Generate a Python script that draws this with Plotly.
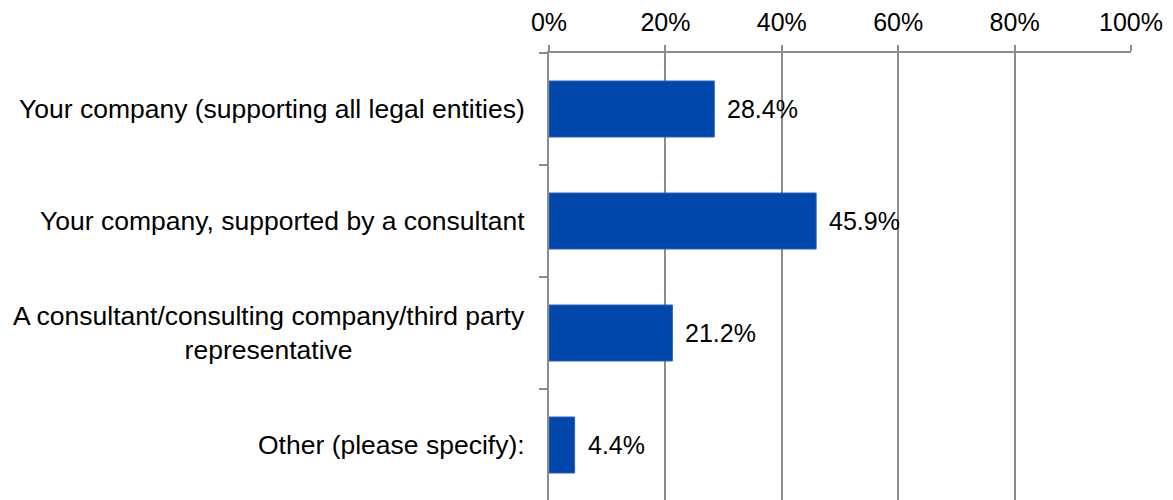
import plotly.graph_objects as go

categories = [
    "Your company (supporting all legal entities)",
    "Your company, supported by a consultant",
    "A consultant/consulting company/third party<br>representative",
    "Other (please specify):",
]
values = [0.284, 0.459, 0.212, 0.044]
value_labels = ["28.4%", "45.9%", "21.2%", "4.4%"]
x_ticks = [0, 0.2, 0.4, 0.6, 0.8, 1.0]
x_tick_labels = ["0%", "20%", "40%", "60%", "80%", "100%"]

FONT = "Liberation Sans, Arial, sans-serif"
GRID = "#8c8c8c"

fig = go.Figure(
    go.Bar(
        x=values,
        y=categories,
        orientation="h",
        width=0.5,
        marker=dict(color="#0047AB", line=dict(color="#2a5fbf", width=1)),
        hoverinfo="skip",
    )
)

annotations = []
for cat, v, lab in zip(categories, values, value_labels):
    annotations.append(dict(
        x=0, y=cat, xref="x", yref="y", text=cat, showarrow=False,
        xanchor="right", yanchor="middle", align="center", xshift=-22,
        font=dict(family=FONT, size=26.5, color="black"),
    ))
    annotations.append(dict(
        x=v, y=cat, xref="x", yref="y", text=lab, showarrow=False,
        xanchor="left", yanchor="middle", xshift=11,
        font=dict(family=FONT, size=25, color="black"),
    ))

# page body has an 8px default margin, so the figure is shrunk by that offset
fig.update_layout(
    width=1165, height=492,
    margin=dict(l=541, r=42, t=45, b=0),
    paper_bgcolor="white", plot_bgcolor="white",
    showlegend=False,
    annotations=annotations,
    xaxis=dict(
        side="top", range=[0, 1], tickvals=x_ticks, ticktext=x_tick_labels,
        showgrid=True, gridcolor=GRID, gridwidth=1.5,
        showline=True, linecolor=GRID, linewidth=1.5,
        ticks="outside", ticklen=6, tickcolor=GRID, tickwidth=1.5,
        ticklabelstandoff=4,
        tickfont=dict(family=FONT, size=25, color="black"),
        zeroline=False, fixedrange=True,
    ),
    yaxis=dict(
        type="category", categoryorder="array", categoryarray=categories,
        range=[3.491, -0.5], tickson="boundaries",
        showgrid=False, zeroline=False,
        showline=True, linecolor=GRID, linewidth=1.5,
        ticks="outside", ticklen=8, tickcolor=GRID, tickwidth=1.5,
        showticklabels=False, fixedrange=True,
    ),
)

fig.write_html("out.html")
